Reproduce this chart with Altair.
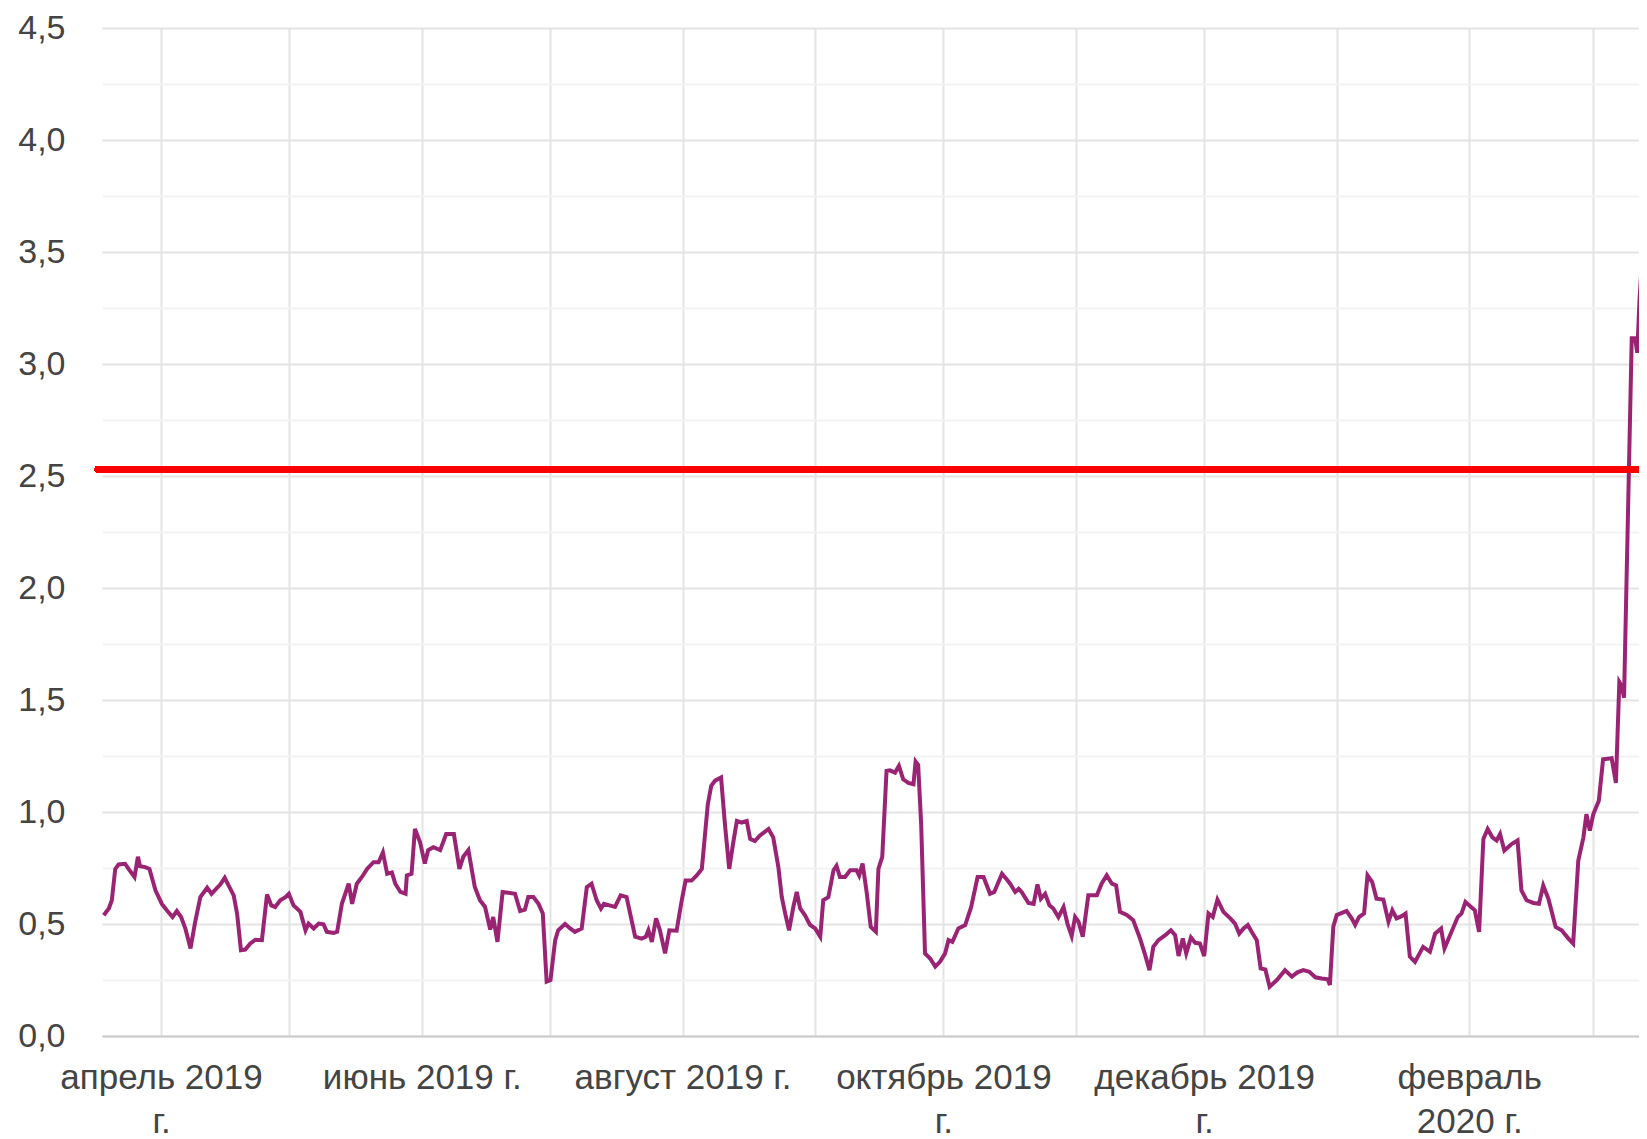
import altair as alt
import pandas as pd

# day offsets from 1 April 2019 and the plotted values
days = [
    -13.4, -12.2, -11.5, -10.7, -9.9, -8.4, -7.6, -6.2, -5.4, -4.9, -3.7, -2.7, -1.3, 0.2, 1.4, 2.7,
    3.7, 4.7, 5.7, 6.9, 8.0, 9.2, 10.8, 11.8, 12.9, 13.9, 14.9, 15.8, 17.0, 17.8, 18.7, 19.7,
    20.9, 22.1, 23.6, 24.8, 25.8, 26.7, 27.9, 29.1, 29.9, 31.0, 32.6, 33.8, 34.5, 35.7, 36.9,
    38.0, 38.8, 40.4, 41.2, 42.3, 43.9, 44.7, 45.8, 47.0, 48.2, 49.7, 50.9, 51.9, 52.9, 54.0,
    54.8, 56.0, 57.2, 57.5, 58.6, 59.4, 60.6, 61.7, 62.5, 63.7, 65.3, 66.7, 68.5, 69.8, 70.7,
    71.9, 73.4, 74.6, 75.8, 77.0, 77.7, 78.7, 79.9, 81.2, 82.8, 84.0, 85.1, 85.9, 87.1, 88.3,
    89.3, 90.2, 91.1, 92.2, 92.9, 94.5, 95.7, 96.8, 98.4, 99.6, 100.7, 101.9, 102.9, 103.6,
    104.9, 106.2, 107.5, 108.9, 110.9, 112.4, 113.4, 114.0, 114.8, 115.8, 116.7, 117.9, 118.9,
    120.6, 121.8, 122.7, 124.1, 125.3, 126.5, 127.9, 128.7, 129.6, 131.0, 131.9, 132.9, 133.9,
    134.7, 135.8, 137.0, 137.8, 138.9, 140.1, 142.1, 143.2, 144.4, 145.2, 146.0, 146.9, 147.9,
    148.7, 149.5, 150.6, 151.8, 153.0, 154.2, 154.9, 156.1, 157.3, 158.0, 158.8, 160.0, 161.2,
    162.7, 163.3, 164.1, 165.1, 166.0, 167.2, 167.8, 168.7, 169.7, 170.5, 171.7, 172.6, 173.6,
    174.8, 176.0, 176.5, 177.1, 177.8, 178.7, 179.9, 181.1, 182.2, 183.4, 184.2, 185.1, 186.5,
    188.1, 189.5, 191.0, 192.4, 193.9, 194.9, 196.7, 197.8, 198.6, 199.8, 200.6, 201.3, 202.9,
    204.1, 205.0, 205.8, 206.8, 207.8, 208.7, 209.9, 211.1, 212.0, 213.0, 213.8, 214.6, 215.6,
    216.9, 218.9, 220.0, 221.2, 222.4, 223.4, 224.3, 225.9, 227.4, 229.0, 230.2, 231.2, 232.1,
    233.3, 234.9, 236.2, 237.2, 238.0, 239.0, 239.8, 240.9, 241.9, 243.0, 244.0, 245.0, 246.0,
    247.1, 248.5, 250.1, 251.2, 252.2, 253.2, 254.2, 255.1, 256.3, 257.2, 258.3, 259.3, 261.0,
    262.9, 264.5, 265.8, 267.2, 268.6, 270.0, 271.5, 272.9, 273.4, 274.2, 275.0, 277.3, 278.5,
    279.3, 280.2, 281.4, 282.2, 283.3, 284.3, 285.9, 287.1, 288.0, 289.0, 290.2, 291.1, 292.1,
    293.3, 295.2, 296.8, 298.0, 299.4, 300.2, 301.5, 303.3, 304.2, 305.1, 307.3, 308.3, 309.3,
    310.3, 311.4, 312.4, 313.2, 314.2, 315.9, 317.3, 318.2, 319.4, 321.0, 322.3, 323.3, 324.5,
    326.2, 327.6, 329.2, 330.3, 331.5, 332.7, 333.4, 334.2, 335.0, 336.3, 337.3, 339.3, 340.3,
    341.1, 341.7, 342.2, 344.0, 344.8, 345.3, 345.8, 347.6,
]
values = [
    0.539, 0.569, 0.606, 0.746, 0.766, 0.769, 0.746, 0.71, 0.80, 0.758, 0.754, 0.746, 0.65, 0.59, 0.56, 0.531,
    0.558, 0.531, 0.48, 0.391, 0.51, 0.62, 0.662, 0.635, 0.657, 0.677, 0.706, 0.672, 0.628, 0.546, 0.383, 0.386,
    0.413, 0.43, 0.428, 0.632, 0.583, 0.576, 0.606, 0.62, 0.635, 0.583, 0.554, 0.472, 0.502, 0.48, 0.502,
    0.499, 0.465, 0.46, 0.465, 0.59, 0.68, 0.59, 0.68, 0.71, 0.746, 0.776, 0.776, 0.82, 0.724, 0.73,
    0.68, 0.643, 0.635, 0.717, 0.724, 0.924, 0.865, 0.77, 0.83, 0.843, 0.83, 0.902, 0.902, 0.746, 0.80,
    0.83, 0.665, 0.606, 0.576, 0.475, 0.531, 0.42, 0.643, 0.64, 0.635, 0.558, 0.564, 0.62, 0.62, 0.59,
    0.547, 0.243, 0.25, 0.428, 0.472, 0.50, 0.48, 0.465, 0.48, 0.665, 0.68, 0.606, 0.569, 0.59,
    0.583, 0.576, 0.628, 0.62, 0.443, 0.435, 0.443, 0.472, 0.42, 0.525, 0.472, 0.369, 0.472,
    0.47, 0.606, 0.694, 0.694, 0.717, 0.746, 1.035, 1.117, 1.14, 1.154, 0.946, 0.746, 0.87,
    0.96, 0.953, 0.96, 0.88, 0.87, 0.895, 0.924, 0.887, 0.754, 0.62, 0.546, 0.472, 0.576,
    0.643, 0.569, 0.54, 0.496, 0.48, 0.443, 0.606, 0.62, 0.74, 0.76, 0.71, 0.71, 0.74,
    0.74, 0.717, 0.77, 0.635, 0.487, 0.465, 0.746, 0.80, 1.183, 1.186, 1.176, 1.206, 1.146,
    1.13, 1.124, 1.225, 1.21, 0.946, 0.369, 0.346, 0.31, 0.331, 0.369, 0.428, 0.42, 0.48,
    0.495, 0.576, 0.71, 0.71, 0.635, 0.643, 0.724, 0.70, 0.68, 0.643, 0.657, 0.643, 0.594,
    0.59, 0.677, 0.613, 0.635, 0.583, 0.569, 0.531, 0.576, 0.502, 0.446, 0.531, 0.51, 0.443,
    0.628, 0.628, 0.68, 0.717, 0.68, 0.672, 0.554, 0.54, 0.517, 0.435, 0.361, 0.294, 0.398,
    0.428, 0.45, 0.472, 0.45, 0.357, 0.435, 0.369, 0.44, 0.416, 0.413, 0.357, 0.547, 0.531,
    0.609, 0.554, 0.525, 0.502, 0.457, 0.48, 0.495, 0.465, 0.428, 0.302, 0.297, 0.22, 0.25,
    0.294, 0.265, 0.284, 0.294, 0.287, 0.262, 0.257, 0.253, 0.228, 0.488, 0.54, 0.558, 0.525,
    0.496, 0.531, 0.547, 0.717, 0.687, 0.613, 0.609, 0.51, 0.561, 0.525, 0.535, 0.547, 0.354,
    0.331, 0.398, 0.376, 0.457, 0.48, 0.391, 0.45, 0.531, 0.547, 0.598, 0.561, 0.465, 0.88,
    0.924, 0.887, 0.873, 0.902, 0.828, 0.857, 0.873, 0.65, 0.606, 0.594, 0.59, 0.672, 0.613,
    0.487, 0.472, 0.435, 0.413, 0.783, 0.887, 0.99, 0.917, 0.99, 1.05, 1.235, 1.24, 1.13,
    1.58, 1.56, 1.51, 3.115, 3.115, 3.05, 3.28, 3.84,
]

threshold = 2.53

tick_months = ["2019-04", "2019-05", "2019-06", "2019-07", "2019-08", "2019-09",
               "2019-10", "2019-11", "2019-12", "2020-01", "2020-02", "2020-03"]
tick_labels = [["апрель 2019", "г."], None, ["июнь 2019 г."], None, ["август 2019 г."], None,
               ["октябрь 2019", "г."], None, ["декабрь 2019", "г."], None, ["февраль", "2020 г."], None]

y_ticks = [0, 0.25, 0.5, 0.75, 1.0, 1.25, 1.5, 1.75, 2.0, 2.25, 2.5, 2.75, 3.0, 3.25, 3.5,
           3.75, 4.0, 4.25, 4.5]

base = pd.Timestamp("2019-04-01")
dates = [(base + pd.Timedelta(days=d)).strftime("%Y-%m-%dT%H:%M:%S") for d in days]
df = pd.DataFrame({"date": dates, "value": values})

# x tick positions (month starts) and label expression
x_values = [alt.DateTime(year=int(m[:4]), month=int(m[5:]), date=1) for m in tick_months]
expr = ""
for m, lab in zip(tick_months, tick_labels):
    if lab:
        arr = "[" + ", ".join("'" + s + "'" for s in lab) + "]"
        expr += f"timeFormat(datum.value, '%Y-%m') == '{m}' ? {arr} : "
expr += "''"

FONT = "Liberation Sans"
LABEL_COLOR = "#444444"

x_axis = alt.Axis(
    values=x_values, labelExpr=expr, title=None,
    grid=True, gridColor="#e4e4e4", gridWidth=2,
    ticks=False, tickSize=0,
    domain=True, domainColor="#cccccc", domainWidth=2,
    labelFont=FONT, labelFontSize=35, labelColor=LABEL_COLOR,
    labelPadding=24, labelLineHeight=44, labelLimit=0,
    labelOverlap=False, labelFlush=False, labelBound=False,
)
y_axis = alt.Axis(
    values=y_ticks, title=None,
    labelExpr="datum.value % 0.5 == 0 ? replace(format(datum.value, '.1f'), '.', ',') : ''",
    grid=True,
    gridColor={"condition": {"test": "datum.value % 0.5 == 0", "value": "#e4e4e4"}, "value": "#f3f3f3"},
    gridWidth=2,
    ticks=False, tickSize=0, domain=False, labelLimit=0,
    labelFont=FONT, labelFontSize=34, labelColor=LABEL_COLOR, labelPadding=37,
)

x_scale = alt.Scale(domain=[
    alt.DateTime(year=2019, month=3, date=18, hours=4, minutes=48),
    alt.DateTime(year=2020, month=3, date=11, hours=16, minutes=48),
])
y_scale = alt.Scale(domain=[0, 4.5], nice=False)

line = alt.Chart(df).mark_line(color="#9b2373", strokeWidth=4, clip=True).encode(
    x=alt.X("date:T", scale=x_scale, axis=x_axis),
    y=alt.Y("value:Q", scale=y_scale, axis=y_axis),
)

rule = alt.Chart(df).mark_rule(color="#ff0000", strokeWidth=6.5, strokeCap="round").encode(
    y=alt.datum(threshold),
    x=alt.value(-4),
    x2=alt.value(1600),
)

chart = alt.layer(line, rule).properties(
    width=1537, height=1008,
    padding={"left": 94, "top": 20, "right": 0, "bottom": 103},
    autosize=alt.AutoSizeParams(type="none"),
    background="white",
).configure_view(strokeWidth=0)

chart.save("out.html", embed_options={"renderer": "svg", "actions": False})
